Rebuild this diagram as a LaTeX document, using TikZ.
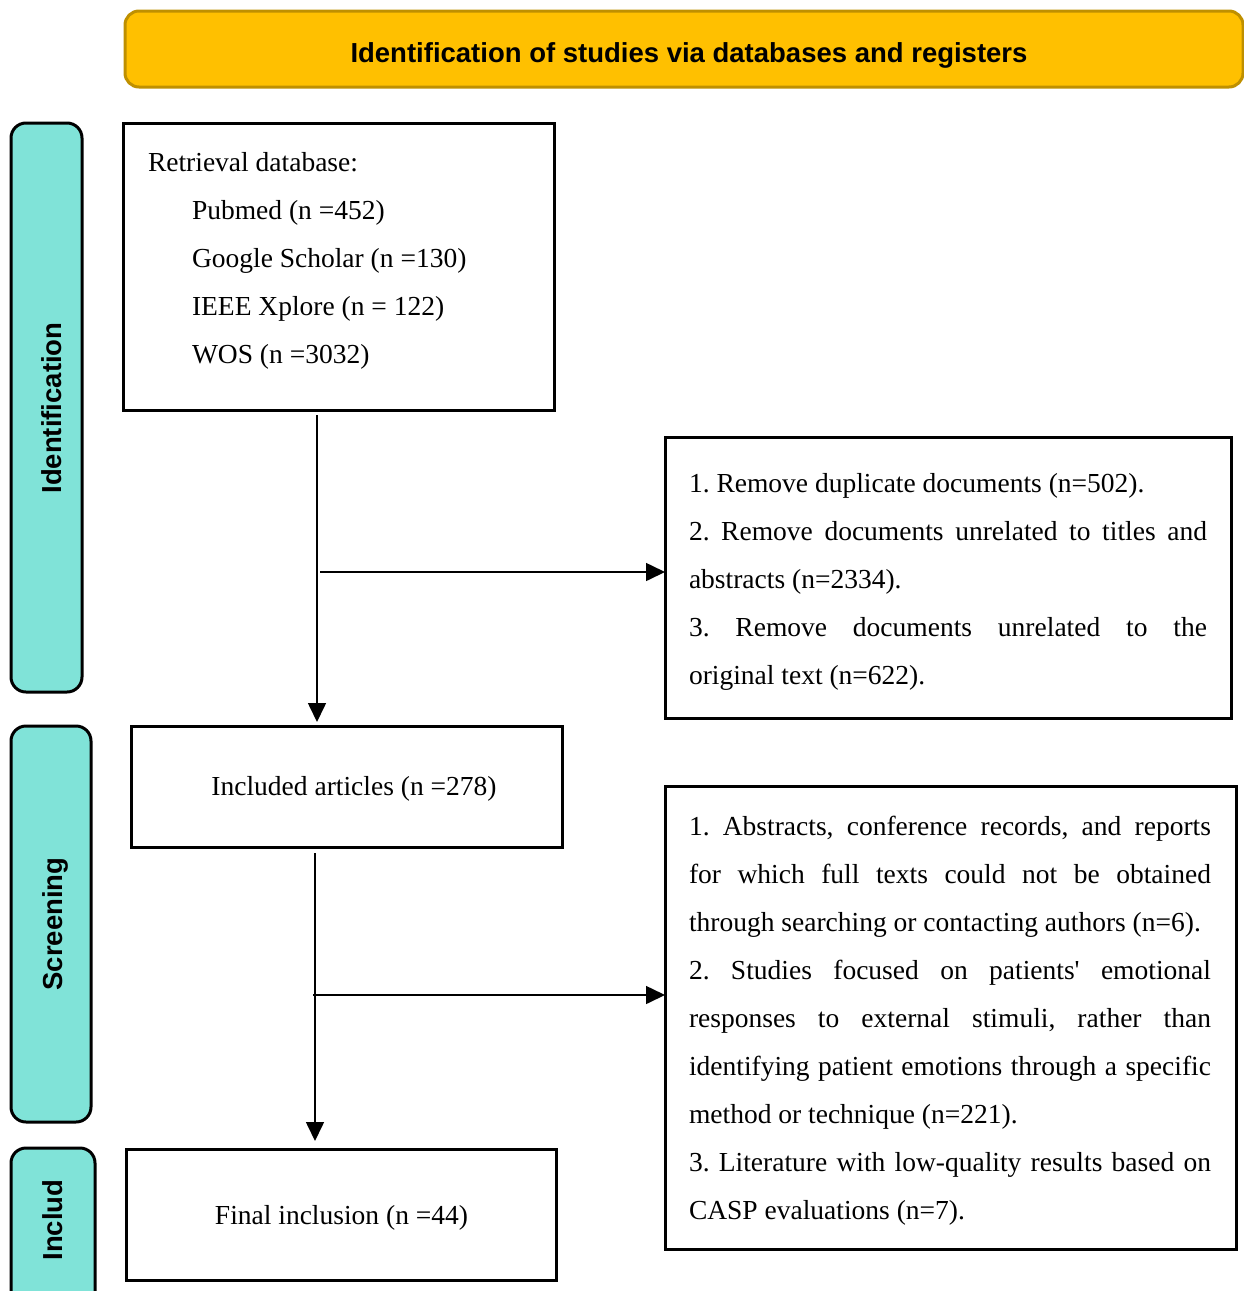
\documentclass[tikz,border=0pt]{standalone}
\usepackage{fontspec}
\setmainfont{Liberation Serif}
\setsansfont{Liberation Sans}
\usetikzlibrary{arrows.meta}
\definecolor{hdrfill}{HTML}{FFC000}
\definecolor{hdrline}{HTML}{BF9000}
\definecolor{sidefill}{HTML}{80E3D8}
\frenchspacing
\newcommand{\bodyfont}{\fontsize{27.5pt}{33pt}\selectfont}
\newcommand{\labfont}{\fontsize{27.5pt}{33pt}\selectfont\sffamily\bfseries}
\newcommand{\jla}[1]{\makebox[518pt][s]{#1}}
\newcommand{\jlb}[1]{\makebox[522pt][s]{#1}}
\begin{document}
\begin{tikzpicture}[x=1pt,y=-1pt,
  box/.style={draw=black, line width=3pt, fill=white, inner sep=0pt, outer sep=0pt},
  hdr/.style={draw=hdrline, line width=3pt, fill=hdrfill, rounded corners=14pt, inner sep=0pt, outer sep=0pt},
  side/.style={draw=black, line width=3pt, fill=sidefill, rounded corners=15pt, inner sep=0pt, outer sep=0pt},
  txt/.style={inner sep=0pt, outer sep=0pt, anchor=base west, font=\bodyfont},
  ctxt/.style={inner sep=0pt, outer sep=0pt, anchor=base, font=\bodyfont},
  lab/.style={inner sep=0pt, outer sep=0pt, anchor=base, font=\labfont},
  arr/.style={draw=black, line width=1.6pt, -{Triangle[width=18pt,length=19pt]}}
]
\useasboundingbox (0,0) rectangle (1244,1291);
\clip (0,0) rectangle (1244,1291);

% header
\node[hdr, minimum width=1118pt, minimum height=76pt] (hdr) at (684,49) {};
\node[lab] (hdrt) at (689,62) {Identification of studies via databases and registers};

% side labels
\node[side, minimum width=71pt, minimum height=569pt] (sid) at (46.5,407.5) {};
\node[lab, rotate=90] (sidt) at (61,408) {Identification};
\node[side, minimum width=80pt, minimum height=396pt] (sscr) at (51,924) {};
\node[lab, rotate=90] (sscrt) at (62,924) {Screening};
\node[side, minimum width=84pt, minimum height=160pt] (sinc) at (53,1228) {};
\node[lab, rotate=90] (sinct) at (62,1220) {Includ};

% boxes
\node[box, minimum width=431pt, minimum height=287pt] (db) at (338.5,266.5) {};
\node[box, minimum width=566pt, minimum height=281pt] (rm1) at (948,577.5) {};
\node[box, minimum width=431pt, minimum height=121pt] (inc) at (346.5,786.5) {};
\node[box, minimum width=571pt, minimum height=463pt] (rm2) at (950.5,1017.5) {};
\node[box, minimum width=430pt, minimum height=131pt] (fin) at (341,1214.5) {};

% database text
\node[txt] (d0) at (148,171) {Retrieval database:};
\node[txt] (d1) at (192,219) {Pubmed (n =452)};
\node[txt] (d2) at (192,267) {Google Scholar (n =130)};
\node[txt] (d3) at (192,315) {IEEE Xplore (n = 122)};
\node[txt] (d4) at (192,363) {WOS (n =3032)};

% removal text 1
\node[txt] (r1) at (689,492) {1. Remove duplicate documents (n=502).};
\node[txt] (r2) at (689,540) {\jla{2. Remove documents unrelated to titles and}};
\node[txt] (r3) at (689,588) {abstracts (n=2334).};
\node[txt] (r4) at (689,636) {\jla{3. Remove documents unrelated to the}};
\node[txt] (r5) at (689,684) {original text (n=622).};

% included / final
\node[ctxt] (inct) at (354,795) {Included articles (n =278)};
\node[ctxt] (fint) at (341.5,1224) {Final inclusion (n =44)};

% removal text 2
\node[txt] (e1) at (689,835) {\jlb{1. Abstracts, conference records, and reports}};
\node[txt] (e2) at (689,883) {\jlb{for which full texts could not be obtained}};
\node[txt] (e3) at (689,931) {through searching or contacting authors (n=6).};
\node[txt] (e4) at (689,979) {\jlb{2. Studies focused on patients\textquotesingle{} emotional}};
\node[txt] (e5) at (689,1027) {\jlb{responses to external stimuli, rather than}};
\node[txt] (e6) at (689,1075) {\jlb{identifying patient emotions through a specific}};
\node[txt] (e7) at (689,1123) {method or technique (n=221).};
\node[txt] (e8) at (689,1171) {\jlb{3. Literature with low-quality results based on}};
\node[txt] (e9) at (689,1219) {CASP evaluations (n=7).};

% connectors
\coordinate (ax1) at (317,0);
\coordinate (ax2) at (315,0);
\coordinate (br1) at (320,572);
\coordinate (br2) at (313,995);
\draw[arr, shorten <=5pt, shorten >=4pt] (db.south -| ax1) -- (inc.north -| ax1);
\draw[arr] (br1) -- (br1 -| rm1.west);
\draw[arr, shorten <=6pt, shorten >=8pt] (inc.south -| ax2) -- (fin.north -| ax2);
\draw[arr] (br2) -- (br2 -| rm2.west);
\end{tikzpicture}
\end{document}
